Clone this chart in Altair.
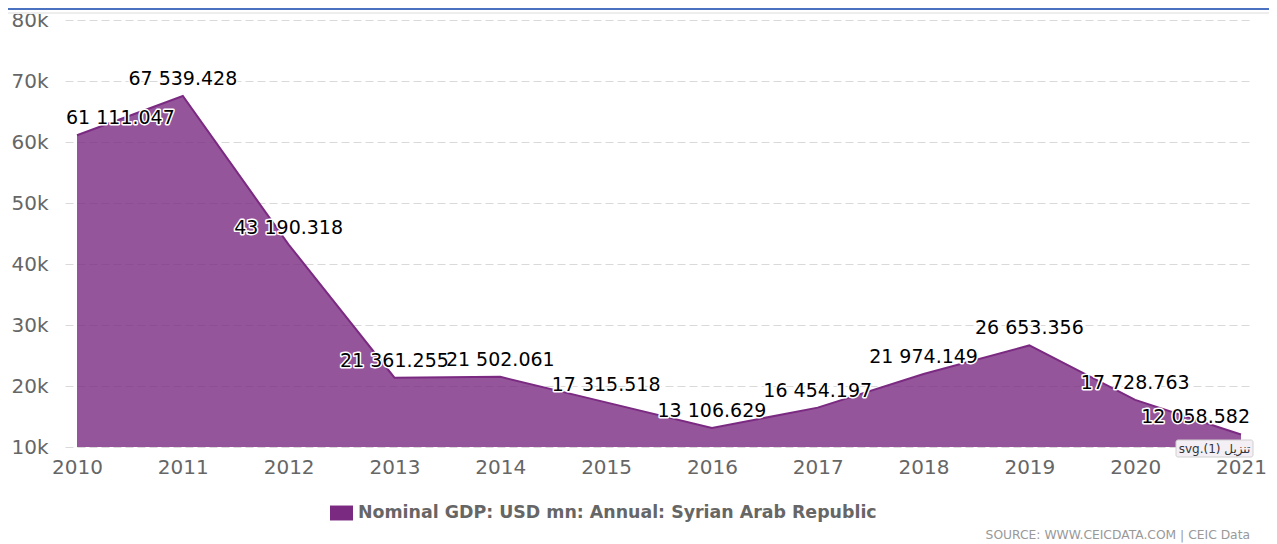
import altair as alt
import pandas as pd

years = [2010, 2011, 2012, 2013, 2014, 2015, 2016, 2017, 2018, 2019, 2020, 2021]
gdp = [61111.047, 67539.428, 43190.318, 21361.255, 21502.061, 17315.518,
       13106.629, 16454.197, 21974.149, 26653.356, 17728.763, 12058.582]
series_name = "Nominal GDP: USD mn: Annual: Syrian Arab Republic"
y_ticks = [10000, 20000, 30000, 40000, 50000, 60000, 70000, 80000]
source_text = "SOURCE: WWW.CEICDATA.COM | CEIC Data"
tooltip_text = "svg.(1) تنزيل"

df = pd.DataFrame({"year": years, "value": gdp, "series": [series_name] * len(years)})

W, H = 1188, 427
PAD_L, PAD_T = 57, 12
TOTAL_W, TOTAL_H = 1261, 536
PURPLE = "#7b2a82"
FONT = "DejaVu Sans"

x = alt.X("year:Q",
          scale=alt.Scale(domain=[2010, 2021], nice=False, zero=False, padding=12),
          axis=alt.Axis(values=years, format="d", title=None, grid=False, domain=False,
                        ticks=False, labelFont=FONT, labelFontSize=20, labelColor="#666",
                        labelPadding=10, labelFlush=False))
y = alt.Y("value:Q",
          scale=alt.Scale(domain=[10000, 80000], nice=False, zero=False),
          axis=alt.Axis(values=y_ticks, format="~s", title=None, domain=False, ticks=False,
                        grid=True, gridColor="#d9d9d9", gridDash=[8, 4], gridWidth=1,
                        labelFont=FONT, labelFontSize=20, labelColor="#666",
                        labelPadding=17, labelBaseline="middle"))

base = alt.Chart(df)

area = base.mark_area(opacity=0.8).encode(
    x=x, y=y, y2=alt.datum(10000),
    color=alt.Color("series:N",
                    scale=alt.Scale(domain=[series_name], range=[PURPLE]),
                    legend=alt.Legend(title=None, orient="none", legendX=265, legendY=481.5,
                                      padding=0,
                                      symbolType="M-1,-0.65H1V0.65H-1Z", symbolSize=529,
                                      symbolOpacity=1, symbolStrokeWidth=0,
                                      symbolFillColor=PURPLE,
                                      labelFont=FONT, labelFontSize=17.4, labelFontWeight="bold",
                                      labelColor="#666", labelOffset=5, labelLimit=800)),
)
line = base.mark_line(color=PURPLE, strokeWidth=2).encode(x=x, y=y)

fmt = ",.3f"

def label_layers(filter_expr, align, dx):
    common = dict(align=align, baseline="middle", dx=dx, dy=-17, font=FONT, fontSize=19)
    halo = base.mark_text(stroke="white", strokeWidth=3, strokeJoin="round", fill="white",
                          **common).encode(
        x=alt.X("year:Q"), y=alt.Y("value:Q"),
        text=alt.Text("value:Q", format=fmt)).transform_filter(filter_expr)
    txt = base.mark_text(color="black", **common).encode(
        x=alt.X("year:Q"), y=alt.Y("value:Q"),
        text=alt.Text("value:Q", format=fmt)).transform_filter(filter_expr)
    return [halo, txt]

labels = (label_layers("datum.year == 2010", "left", -11)
          + label_layers("datum.year > 2010 && datum.year < 2021", "center", 0)
          + label_layers("datum.year == 2021", "right", 9))

# annotations
source = alt.Chart(pd.DataFrame({"t": [source_text]})).mark_text(
    align="right", baseline="middle", font=FONT, fontSize=12.3, color="#999").encode(
    x=alt.value(1185), y=alt.value(515), text="t:N")

tip_box = alt.Chart(pd.DataFrame({"t": [tooltip_text]})).mark_rect(
    fill="#f4eef5", stroke="#d0d0d0", strokeWidth=1, cornerRadius=2).encode(
    x=alt.value(1111), x2=alt.value(1188), y=alt.value(420), y2=alt.value(437))
tip_text = alt.Chart(pd.DataFrame({"t": [tooltip_text]})).mark_text(
    align="center", baseline="middle", font=FONT, fontSize=12, color="#333").encode(
    x=alt.value(1149.5), y=alt.value(428.5), text="t:N")

top_blue = alt.Chart(pd.DataFrame({"t": [0]})).mark_rule(color="#4a72c0", strokeWidth=2).encode(
    x=alt.value(-PAD_L), x2=alt.value(TOTAL_W - PAD_L), y=alt.value(-11))
top_gray = alt.Chart(pd.DataFrame({"t": [0]})).mark_rule(color="#eeeeee", strokeWidth=2).encode(
    x=alt.value(-PAD_L), x2=alt.value(TOTAL_W - PAD_L), y=alt.value(-7))

chart = alt.layer(area, line, *labels, source, tip_box, tip_text, top_blue, top_gray).properties(
    width=W, height=H,
    autosize=alt.AutoSizeParams(type="none"),
    padding={"left": PAD_L, "top": PAD_T, "right": TOTAL_W - PAD_L - W,
             "bottom": TOTAL_H - PAD_T - H},
).configure(
    locale={"number": {"decimal": ".", "thousands": " ", "grouping": [3],
                       "currency": ["", ""]}}
).configure_view(stroke=None)

chart.save("out.html", embed_options={"renderer": "svg", "actions": False})
